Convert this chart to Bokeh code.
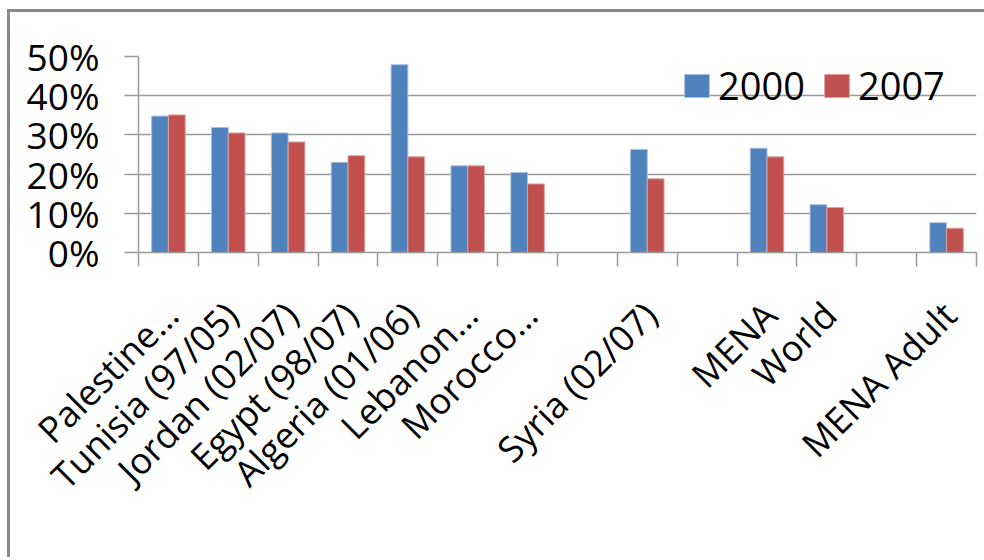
import numpy as np
from bokeh.plotting import figure
from bokeh.layouts import column
from bokeh.models import (ColumnDataSource, Range1d, FixedTicker, NumeralTickFormatter,
                          Legend, LegendItem)
from bokeh.transform import dodge
from bokeh.embed import file_html
from bokeh.resources import INLINE

# ---- data ----
categories = ["Palestine…", "Tunisia (97/05)", "Jordan (02/07)", "Egypt (98/07)",
              "Algeria (01/06)", "Lebanon…", "Morocco…", "", "Syria (02/07)", "",
              "MENA", "World", "", "MENA Adult"]
nan = float("nan")
values_2000 = [34.8, 31.9, 30.5, 23.0, 47.9, 22.1, 20.4, nan, 26.3, nan, 26.6, 12.2, nan, 7.6]
values_2007 = [35.1, 30.5, 28.2, 24.7, 24.4, 22.1, 17.5, nan, 18.8, nan, 24.4, 11.5, nan, 6.2]
series_names = ["2000", "2007"]
y_ticks = [0, 10, 20, 30, 40, 50]

FONT = "Open Sans"
GRAY = "#9a9a9a"
BLUE = "#4F81BD"
RED = "#C0504D"

n = len(categories)
pos = np.arange(n) + 0.5
source = ColumnDataSource(dict(
    pos=pos,
    v2000=np.array(values_2000) / 100.0,
    v2007=np.array(values_2007) / 100.0,
))

p = figure(width=974, height=548, output_backend="svg", toolbar_location=None,
           x_range=Range1d(0, n), y_range=Range1d(0, 0.5),
           min_border_left=128, min_border_right=8, min_border_top=44,
           min_border_bottom=308, x_axis_type="linear")
p.margin = (12, 0, 0, 10)
p.styles = {"box-shadow": "-3px -3px 0 0 #898989, 0 -3px 0 0 #898989"}

p.outline_line_color = None
p.background_fill_color = "white"
p.border_fill_color = "white"

bw = 0.28
r1 = p.vbar(x=dodge("pos", -bw / 2, range=p.x_range), top="v2000", width=bw, source=source,
            fill_color=BLUE, line_color="#a9c0dd", line_width=1)
r2 = p.vbar(x=dodge("pos", bw / 2, range=p.x_range), top="v2007", width=bw, source=source,
            fill_color=RED, line_color="#dba3a1", line_width=1)

# y axis
p.yaxis.ticker = FixedTicker(ticks=[t / 100 for t in y_ticks])
p.yaxis.formatter = NumeralTickFormatter(format="0%")
p.yaxis.axis_line_color = GRAY
p.yaxis.axis_line_width = 1.5
p.yaxis.major_tick_line_color = GRAY
p.yaxis.major_tick_line_width = 1.5
p.yaxis.major_tick_out = 14
p.yaxis.major_tick_in = 0
p.yaxis.minor_tick_line_color = None
p.yaxis.major_label_text_font = FONT
p.yaxis.major_label_text_font_size = "37px"
p.yaxis.major_label_text_color = "black"
p.yaxis.major_label_standoff = 25

# x axis: boundary ticks as minor ticks, labels at offset positions
label_offset = 0.05
label_ticks = [float(pos[i] + label_offset) for i in range(n) if categories[i]]
overrides = {float(pos[i] + label_offset): categories[i] for i in range(n) if categories[i]}
p.xaxis.ticker = FixedTicker(ticks=label_ticks, minor_ticks=list(range(n + 1)))
p.xaxis.major_label_overrides = overrides
p.xaxis.major_tick_line_color = None
p.xaxis.minor_tick_line_color = GRAY
p.xaxis.minor_tick_line_width = 1.5
p.xaxis.minor_tick_out = 14
p.xaxis.minor_tick_in = 0
p.xaxis.axis_line_color = GRAY
p.xaxis.axis_line_width = 1.5
p.xaxis.major_label_orientation = np.pi / 4
p.xaxis.major_label_text_font = FONT
p.xaxis.major_label_text_font_size = "36px"
p.xaxis.major_label_text_color = "black"
p.xaxis.major_label_standoff = 42

p.xgrid.grid_line_color = None
p.ygrid.grid_line_color = GRAY
p.ygrid.grid_line_width = 1.5

legend = Legend(items=[LegendItem(label=series_names[0], renderers=[r1]),
                       LegendItem(label=series_names[1], renderers=[r2])],
                orientation="horizontal", location=(543, 141),
                background_fill_alpha=0, border_line_color=None,
                padding=0, margin=0, spacing=16, label_standoff=6,
                glyph_width=31, glyph_height=29, label_height=46,
                label_text_font=FONT, label_text_font_size="38px",
                label_text_color="black")
p.add_layout(legend)

layout = column(p)

html = file_html(layout, INLINE)
html = html.replace("<head>", "<head><style>html, body { margin: 0; padding: 0; overflow: hidden; background: #ffffff; }</style>", 1)
open("out.html", "w").write(html)
